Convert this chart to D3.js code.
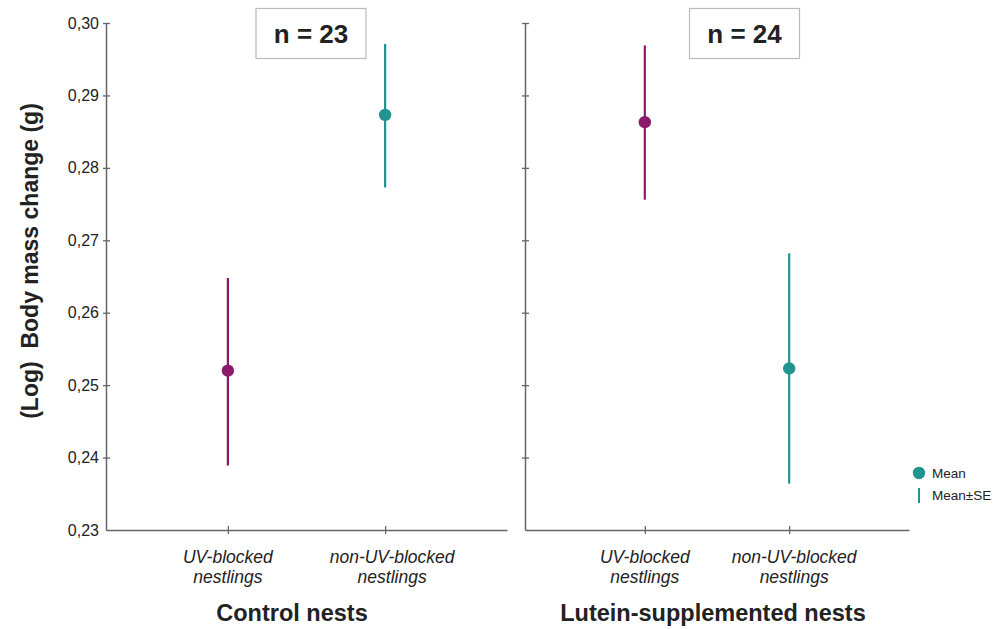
<!DOCTYPE html>
<html>
<head>
<meta charset="utf-8">
<script src="https://cdn.jsdelivr.net/npm/d3@7"></script>
<style>
  body { margin: 0; background: #fff; }
  svg { display: block; font-family: "Liberation Sans", Arial, sans-serif; }
</style>
</head>
<body>
<svg id="chart" width="998" height="629"></svg>
<script>
// data
const groups = ["Control nests", "Lutein-supplemented nests"];
const categories = ["UV-blocked nestlings", "non-UV-blocked nestlings"];
const categoryLines = [["UV-blocked", "nestlings"], ["non-UV-blocked", "nestlings"]];
const sampleSizes = [23, 24];
const means = [[0.2520, 0.2873], [0.2863, 0.2523]];
const lowerSE = [[0.2389, 0.2773], [0.2756, 0.2364]];
const upperSE = [[0.2648, 0.2971], [0.2969, 0.2682]];
const yTicks = [0.23, 0.24, 0.25, 0.26, 0.27, 0.28, 0.29, 0.30];

const colors = { "UV-blocked nestlings": "#8c1a6a", "non-UV-blocked nestlings": "#20958f" };
const axisColor = "#666";
const textColor = "#222";

const svg = d3.select("#chart");

const y = d3.scaleLinear().domain([0.23, 0.30]).range([530, 23]);

// panel layout
const panels = [
  { x0: 106, x1: 507, pad: 0.775, boxX: 311, titleX: 292, labelDx: [0, 7], showLabels: true },
  { x0: 525, x1: 909, pad: 0.83, boxX: 744.5, titleX: 713, labelDx: [0, 5], showLabels: false }
];

panels.forEach((p, gi) => {
  const x = d3.scalePoint().domain(categories).range([p.x0, p.x1]).padding(p.pad);

  // y axis
  const yAxis = d3.axisLeft(y).tickValues(yTicks).tickSizeOuter(0).tickSizeInner(3)
    .tickFormat(p.showLabels ? d => d3.format(".2f")(d).replace(".", ",") : "");
  const ya = svg.append("g").attr("transform", `translate(${p.x0},0)`).call(yAxis);
  ya.select(".domain").attr("stroke", axisColor).attr("stroke-width", 1.5);
  ya.selectAll(".tick line").attr("x1", 4).attr("x2", -3).attr("stroke", axisColor).attr("stroke-width", 1.3);
  ya.selectAll(".tick text").attr("x", -7).attr("font-size", 16).attr("fill", textColor)
    .attr("font-family", "Liberation Sans, Arial, sans-serif");
  ya.selectAll(".tick").filter(d => d === 0.23).select("line").remove();

  // x axis
  const xAxis = d3.axisBottom(x).tickSizeOuter(0).tickFormat("");
  const xa = svg.append("g").attr("transform", "translate(0,530)").call(xAxis);
  xa.select(".domain").attr("stroke", axisColor).attr("stroke-width", 1.5);
  xa.selectAll(".tick line").attr("y1", -4).attr("y2", 4).attr("stroke", axisColor).attr("stroke-width", 1.3);

  // category labels
  categories.forEach((c, ci) => {
    const t = svg.append("text")
      .attr("x", x(c) + p.labelDx[ci]).attr("y", 563)
      .attr("text-anchor", "middle").attr("font-style", "italic")
      .attr("font-size", 17.5).attr("fill", textColor);
    categoryLines[ci].forEach((line, li) => {
      t.append("tspan").attr("x", x(c) + p.labelDx[ci]).attr("dy", li === 0 ? 0 : 20).text(line);
    });
  });

  // panel title
  svg.append("text").attr("x", p.titleX).attr("y", 621)
    .attr("text-anchor", "middle").attr("font-weight", "bold").attr("font-size", 23.5)
    .attr("fill", textColor).text(groups[gi]);

  // n box
  svg.append("rect").attr("x", p.boxX - 55).attr("y", 8.5).attr("width", 110).attr("height", 50)
    .attr("fill", "#fff").attr("stroke", "#bbb").attr("stroke-width", 1.2);
  svg.append("text").attr("x", p.boxX).attr("y", 43)
    .attr("text-anchor", "middle").attr("font-weight", "bold").attr("font-size", 26)
    .attr("fill", textColor).text(`n = ${sampleSizes[gi]}`);

  // error bars + means
  categories.forEach((c, ci) => {
    svg.append("line")
      .attr("x1", x(c)).attr("x2", x(c))
      .attr("y1", y(lowerSE[gi][ci])).attr("y2", y(upperSE[gi][ci]))
      .attr("stroke", colors[c]).attr("stroke-width", 2.2);
    svg.append("circle")
      .attr("cx", x(c)).attr("cy", y(means[gi][ci])).attr("r", 6.2)
      .attr("fill", colors[c]);
  });
});

// y axis title
svg.append("text")
  .attr("transform", "translate(38,261) rotate(-90)")
  .attr("text-anchor", "middle").attr("font-weight", "bold").attr("font-size", 23)
  .attr("fill", textColor).style("white-space", "pre")
  .text("(Log)  Body mass change (g)");

// legend
const legendColor = colors["non-UV-blocked nestlings"];
svg.append("circle").attr("cx", 919).attr("cy", 473).attr("r", 6.2).attr("fill", legendColor);
svg.append("line").attr("x1", 919).attr("x2", 919).attr("y1", 488).attr("y2", 503)
  .attr("stroke", legendColor).attr("stroke-width", 2);
svg.append("text").attr("x", 932).attr("y", 478).attr("font-size", 13.5).attr("fill", textColor).text("Mean");
svg.append("text").attr("x", 932).attr("y", 500).attr("font-size", 13.5).attr("fill", textColor).text("Mean±SE");
</script>
</body>
</html>
